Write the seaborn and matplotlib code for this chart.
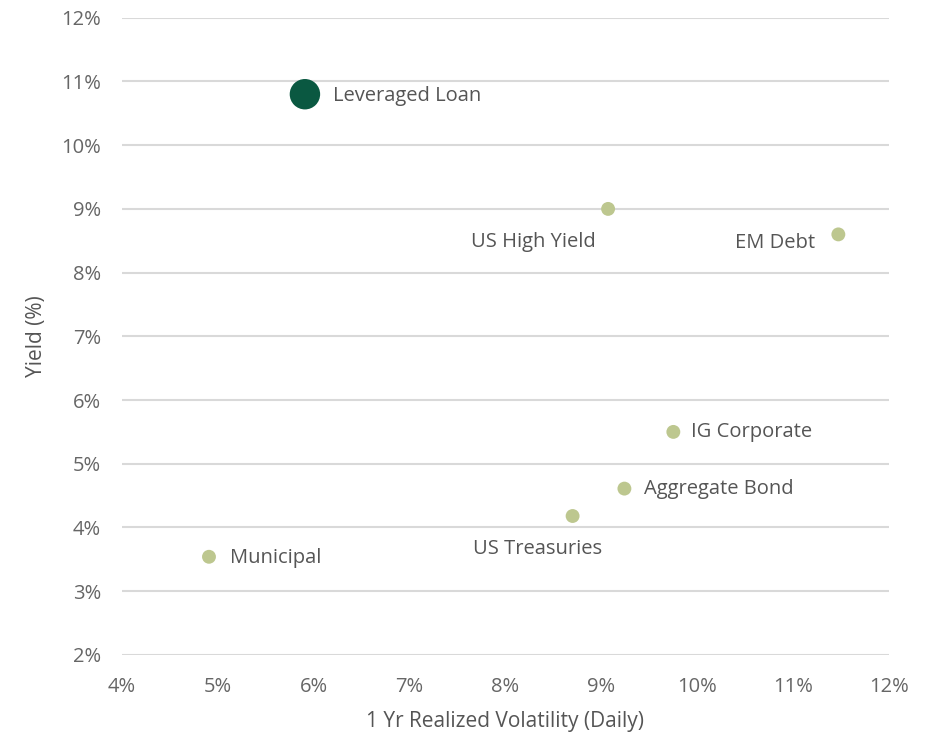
import pandas as pd
import seaborn as sns
import matplotlib.pyplot as plt
from matplotlib.ticker import FuncFormatter

names = ["Leveraged Loan", "US High Yield", "EM Debt", "IG Corporate",
         "Aggregate Bond", "US Treasuries", "Municipal"]
volatility = [5.91, 9.07, 11.47, 9.75, 9.24, 8.70, 4.91]
yield_pct = [10.8, 9.0, 8.6, 5.5, 4.61, 4.18, 3.54]
highlight = [True, False, False, False, False, False, False]

df = pd.DataFrame({"name": names, "vol": volatility, "yld": yield_pct, "hl": highlight})

# label offsets (points) and alignment
label_pos = {
    "Leveraged Loan": (20, -1, "left", "center"),
    "US High Yield": (-9, -24, "right", "center"),
    "EM Debt": (-17, -6, "right", "center"),
    "IG Corporate": (13, 0, "left", "center"),
    "Aggregate Bond": (14, 0, "left", "center"),
    "US Treasuries": (-25, -24, "center", "center"),
    "Municipal": (15, -1, "left", "center"),
}

sns.set_theme(style="white")
plt.rcParams["font.family"] = ["Open Sans", "DejaVu Sans"]

fig = plt.figure(figsize=(9.36, 7.4), dpi=100)
ax = fig.add_axes([0.130, 0.115, 0.820, 0.861])

sns.scatterplot(data=df[~df["hl"]], x="vol", y="yld", color="#BDC78F", s=100,
                edgecolor="none", ax=ax, zorder=3)
sns.scatterplot(data=df[df["hl"]], x="vol", y="yld", color="#0A5841", s=480,
                edgecolor="none", ax=ax, zorder=3)

for _, r in df.iterrows():
    dx, dy, ha, va = label_pos[r["name"]]
    ax.annotate(r["name"], (r["vol"], r["yld"]), xytext=(dx, dy),
                textcoords="offset points", ha=ha, va=va,
                fontsize=14.5, color="#555555")

ax.set_xlim(4, 12)
ax.set_ylim(2, 12)
ax.set_xticks(range(4, 13))
ax.set_yticks(range(2, 13))
pct = FuncFormatter(lambda v, p: f"{v:.0f}%")
ax.xaxis.set_major_formatter(pct)
ax.yaxis.set_major_formatter(pct)
ax.tick_params(axis="both", length=0, labelsize=14.5, labelcolor="#666666")
ax.tick_params(axis="x", pad=16)
ax.tick_params(axis="y", pad=15)
ax.yaxis.grid(True, color="#D9D9D9", linewidth=1.5)
ax.xaxis.grid(False)
for s in ax.spines.values():
    s.set_visible(False)

ax.set_xlabel("1 Yr Realized Volatility (Daily)", fontsize=15, color="#555555", labelpad=10)
ax.set_ylabel("Yield (%)", fontsize=15, color="#555555", labelpad=10)

fig.savefig("out.png", dpi=100)
